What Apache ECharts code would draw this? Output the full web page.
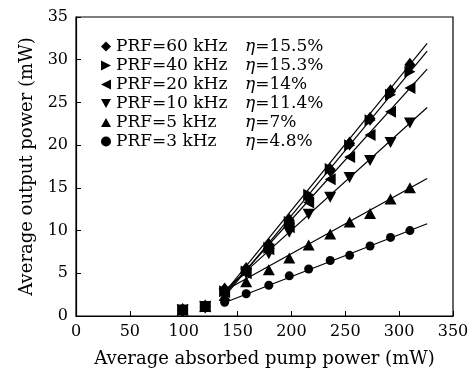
<!DOCTYPE html>
<html>
<head>
<meta charset="utf-8">
<script src="https://cdn.jsdelivr.net/npm/echarts@6/dist/echarts.min.js"></script>
<style>
  html, body { margin: 0; padding: 0; background: #fff; }
  #chart { width: 474px; height: 375px; }
</style>
</head>
<body>
<div id="chart"></div>
<script>
// pump power (mW)
const pumpPower = [99, 120, 138, 158, 179, 198, 216, 236, 254, 273, 292, 310];

// output power (mW) for each repetition rate
const prf60 = [0.7, 1.1, 3.1, 5.5, 8.3, 11.2, 13.8, 17.1, 20.2, 23.1, 26.3, 29.4];
const prf40 = [0.7, 1.1, 2.9, 5.2, 8.0, 11.0, 14.2, 17.2, 20.0, 22.9, 25.9, 28.6];
const prf20 = [0.7, 1.1, 2.8, 5.0, 7.8, 10.4, 13.3, 16.0, 18.6, 21.2, 23.9, 26.7];
const prf10 = [0.7, 1.1, 2.6, 5.0, 7.3, 9.8, 11.9, 13.9, 16.2, 18.2, 20.3, 22.6];
const prf5 = [0.7, 1.1, 2.4, 4.0, 5.4, 6.8, 8.3, 9.6, 11.0, 12.0, 13.7, 15.0];
const prf3 = [0.75, 1.1, 1.6, 2.6, 3.6, 4.7, 5.5, 6.5, 7.1, 8.2, 9.2, 10.0];

// linear fits: start/end x, and y at those ends
const fitX = [140, 326];
const fit60 = [3.05, 31.9];
const fit40 = [2.6, 31.0];
const fit20 = [2.9, 28.9];
const fit10 = [3.2, 24.4];
const fit5 = [3.1, 16.1];
const fit3 = [1.67, 10.8];

const prfLabels = ["PRF=60 kHz", "PRF=40 kHz", "PRF=20 kHz", "PRF=10 kHz", "PRF=5 kHz", "PRF=3 kHz"];
const etaLabels = ["=15.5%", "=15.3%", "=14%", "=11.4%", "=7%", "=4.8%"];

const serif = "DejaVu Serif";
const ink = "#000";

// marker shapes
const triRight = "path://M0,0L10,5L0,10Z";
const triLeft = "path://M10,0L0,5L10,10Z";
const triDown = "path://M0,0L10,0L5,9Z";
const triUp = "path://M5,0L10,9L0,9Z";

const groups = [
  { name: prfLabels[0], data: prf60, fit: fit60, symbol: "diamond", size: [11, 14] },
  { name: prfLabels[1], data: prf40, fit: fit40, symbol: triRight, size: [11, 12] },
  { name: prfLabels[2], data: prf20, fit: fit20, symbol: triLeft, size: [11, 12] },
  { name: prfLabels[3], data: prf10, fit: fit10, symbol: triDown, size: [12, 11] },
  { name: prfLabels[4], data: prf5, fit: fit5, symbol: triUp, size: [12, 11] },
  { name: prfLabels[5], data: prf3, fit: fit3, symbol: "circle", size: 9 },
];

const series = [];
groups.forEach((g) => {
  series.push({
    name: g.name + "_fit",
    type: "line",
    data: fitX.map((x, i) => [x, g.fit[i]]),
    symbol: "none",
    lineStyle: { color: ink, width: 1.2 },
    silent: true,
    z: 2,
  });
});
groups.forEach((g) => {
  series.push({
    name: g.name,
    type: "scatter",
    data: pumpPower.map((x, i) => [x, g.data[i]]),
    symbol: g.symbol,
    symbolSize: g.size,
    itemStyle: { color: ink, opacity: 1 },
    z: 3,
  });
});

const chart = echarts.init(document.getElementById("chart"));
chart.setOption({
  animation: false,
  backgroundColor: "#fff",
  grid: {
    left: 76, right: 21, top: 17, bottom: 59,
    show: true, borderColor: ink, borderWidth: 1.2,
  },
  legend: {
    data: prfLabels,
    left: 96,
    top: 33,
    orient: "vertical",
    itemWidth: 10,
    itemHeight: 10,
    itemGap: 2,
    formatter: (name) => {
      const i = prfLabels.indexOf(name);
      return "{a|" + name + "}{e|η}{b|" + etaLabels[i] + "}";
    },
    textStyle: {
      fontFamily: serif,
      fontSize: 17,
      color: ink,
      lineHeight: 17,
      rich: {
        a: { width: 129, fontFamily: serif, fontSize: 17, color: ink },
        e: { fontFamily: serif, fontSize: 17, fontStyle: "italic", color: ink },
        b: { fontFamily: serif, fontSize: 17, color: ink },
      },
    },
  },
  xAxis: {
    type: "value",
    min: 0, max: 350, interval: 50,
    name: "Average absorbed pump power (mW)",
    nameLocation: "middle",
    nameGap: 34,
    nameTextStyle: { fontFamily: serif, fontSize: 18, color: ink },
    axisLine: { lineStyle: { color: ink, width: 1.2 } },
    axisTick: { inside: true, length: 5, lineStyle: { color: ink } },
    axisLabel: { fontFamily: serif, fontSize: 16, color: ink, margin: 8 },
    splitLine: { show: false },
  },
  yAxis: {
    type: "value",
    min: 0, max: 35, interval: 5,
    name: "Average output power (mW)",
    nameLocation: "middle",
    nameGap: 40,
    nameTextStyle: { fontFamily: serif, fontSize: 18, color: ink },
    axisLine: { lineStyle: { color: ink, width: 1.2 } },
    axisTick: { inside: true, length: 5, lineStyle: { color: ink } },
    axisLabel: { fontFamily: serif, fontSize: 16, color: ink, margin: 8 },
    splitLine: { show: false },
  },
  series: series,
});
</script>
</body>
</html>
